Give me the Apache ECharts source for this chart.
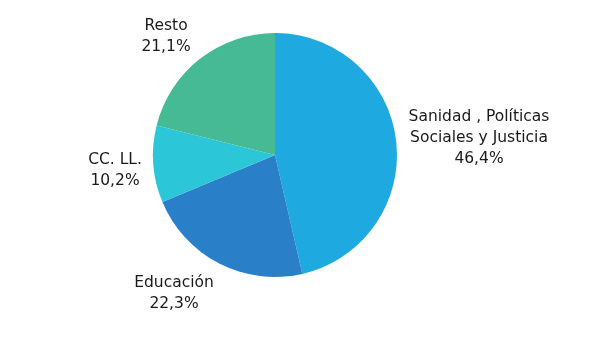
<!DOCTYPE html>
<html><head><meta charset="utf-8">
<script src="https://cdn.jsdelivr.net/npm/echarts@6/dist/echarts.min.js"></script>
<style>html,body{margin:0;padding:0;background:#fff}#c{width:606px;height:360px}</style>
</head><body><div id="c"></div>
<script>
const categories = ['Sanidad , Políticas\nSociales y Justicia', 'Educación', 'CC. LL.', 'Resto'];
const values = [46.4, 22.3, 10.2, 21.1];
const colors = ['#1FA9E1', '#2980C8', '#2BC6D8', '#46BA95'];
const labelPos = [[479, 138], [174, 293], [115, 170], [166, 36]];

const chart = echarts.init(document.getElementById('c'));
chart.setOption({
  animation: false,
  series: [{
    type: 'pie',
    center: [275, 155],
    radius: 122,
    startAngle: 90,
    clockwise: true,
    data: categories.map((n, i) => ({ name: n, value: values[i], itemStyle: { color: colors[i] } })),
    itemStyle: { borderWidth: 0 },
    label: {
      show: true,
      position: 'outside',
      formatter: p => p.name + '\n' + p.value.toFixed(1).replace('.', ',') + '%',
      fontFamily: 'DejaVu Sans',
      fontSize: 15.5,
      lineHeight: 21,
      color: '#1a1a1a',
      align: 'center'
    },
    labelLine: { show: false },
    labelLayout: p => ({ x: labelPos[p.dataIndex][0], y: labelPos[p.dataIndex][1], align: 'center', verticalAlign: 'middle' })
  }]
});
</script></body></html>
